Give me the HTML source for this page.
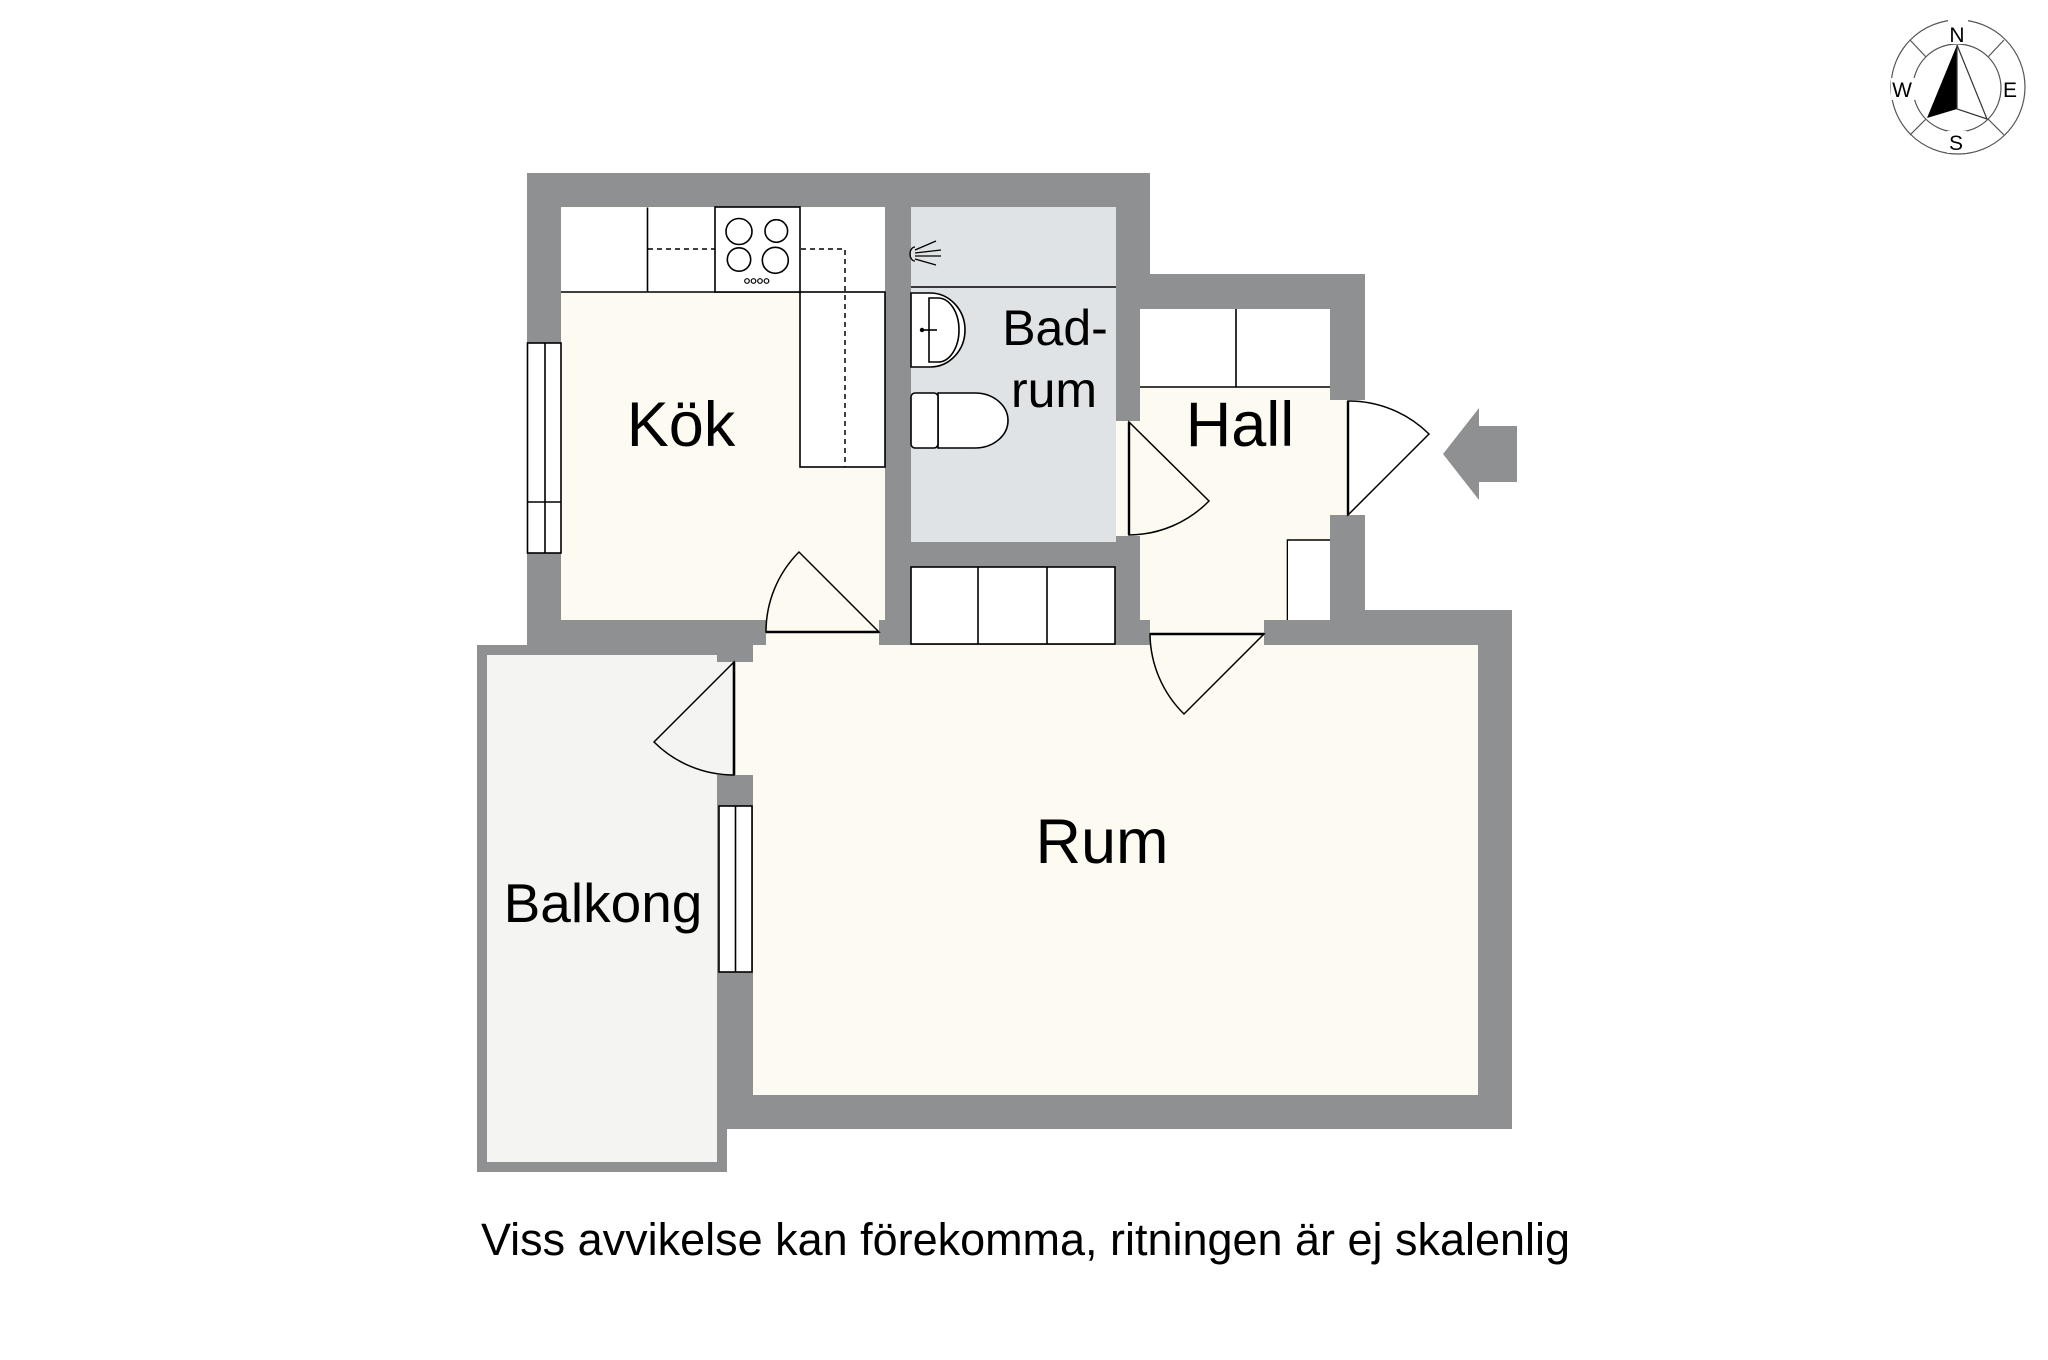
<!DOCTYPE html>
<html>
<head>
<meta charset="utf-8">
<style>
  html,body{margin:0;padding:0;background:#fff;}
  svg{display:block;}
  text{font-family:"Liberation Sans", Arial, sans-serif; fill:#000;}
</style>
</head>
<body>
<svg width="2048" height="1360" viewBox="0 0 2048 1360" xmlns="http://www.w3.org/2000/svg">
  <rect x="0" y="0" width="2048" height="1360" fill="#ffffff"/>

  <!-- ===== WALL BLOCKS ===== -->
  <g fill="#8e9092">
    <rect x="527" y="173" width="623" height="472"/>
    <rect x="1116" y="274" width="249" height="371"/>
    <rect x="1330" y="610" width="182" height="519"/>
    <rect x="717" y="645" width="795" height="484"/>
    <!-- balcony frame -->
    <rect x="477" y="645" width="250" height="527"/>
    <rect x="477" y="645" width="276" height="10"/>
  </g>

  <!-- ===== ROOM INTERIORS ===== -->
  <rect x="561" y="207" width="324" height="413" fill="#fdfbf1"/>       <!-- kitchen -->
  <rect x="911" y="207" width="205" height="335" fill="#dfe3e6"/>       <!-- bath -->
  <rect x="1140" y="309" width="190" height="311" fill="#fdfbf1"/>      <!-- hall -->
  <rect x="753" y="645" width="725" height="450" fill="#fdfbf1"/>       <!-- rum -->
  <rect x="487" y="655" width="230" height="507" fill="#f4f4f2"/>       <!-- balcony -->

  <!-- ===== OPENINGS ===== -->
  <rect x="766" y="620" width="113" height="26" fill="#fdfbf1"/>        <!-- kitchen door -->
  <rect x="1116" y="421" width="24" height="115" fill="#fdfbf1"/>       <!-- bath door -->
  <rect x="1330" y="400" width="18" height="115" fill="#fdfbf1"/>       <!-- entry door inner -->
  <rect x="1348" y="400" width="17" height="115" fill="#ffffff"/>       <!-- entry door outer -->
  <rect x="1150" y="620" width="114" height="26" fill="#fdfbf1"/>       <!-- hall-rum door -->
  <rect x="717" y="662" width="17" height="113" fill="#f4f4f2"/>        <!-- balcony door -->
  <rect x="734" y="662" width="19" height="113" fill="#fdfbf1"/>

  <!-- ===== WINDOWS ===== -->
  <g stroke="#000" stroke-width="1.6" fill="#ffffff">
    <rect x="527.5" y="343" width="33.5" height="210"/>
    <line x1="545" y1="343" x2="545" y2="553"/>
    <line x1="527.5" y1="502" x2="561" y2="502"/>
    <rect x="719" y="806" width="33" height="166"/>
    <line x1="735.5" y1="806" x2="735.5" y2="972"/>
  </g>

  <!-- ===== KITCHEN COUNTERS ===== -->
  <g stroke="#000" stroke-width="1.6" fill="#ffffff">
    <rect x="561" y="207.5" width="324" height="84.5" stroke="none"/>
    <rect x="800" y="292" width="85" height="175"/>
    <line x1="561" y1="292" x2="800" y2="292"/>
    <line x1="647.5" y1="207.5" x2="647.5" y2="292"/>
    <rect x="715" y="207" width="85" height="85"/>
  </g>
  <g stroke="#000" stroke-width="1.5" fill="none" stroke-dasharray="5,4">
    <line x1="648" y1="249" x2="715" y2="249"/>
    <polyline points="801,249 845,249 845,467"/>
  </g>
  <g stroke="#000" stroke-width="1.6" fill="none">
    <circle cx="739" cy="231.5" r="13"/>
    <circle cx="776.3" cy="231" r="11.3"/>
    <circle cx="739" cy="259.5" r="11.7"/>
    <circle cx="775.3" cy="260.3" r="13"/>
  </g>
  <g stroke="#000" stroke-width="1.2" fill="none">
    <circle cx="747" cy="281" r="2.3"/>
    <circle cx="753.5" cy="281" r="2.3"/>
    <circle cx="760" cy="281" r="2.3"/>
    <circle cx="766.5" cy="281" r="2.3"/>
  </g>

  <!-- ===== BATH FIXTURES ===== -->
  <line x1="911" y1="287" x2="1116" y2="287" stroke="#000" stroke-width="1.6"/>
  <g stroke="#000" stroke-width="1.3" fill="none">
    <path d="M915,247 A5,7 0 0 0 915,261"/>
    <line x1="915" y1="250" x2="936" y2="241"/>
    <line x1="915" y1="253" x2="941" y2="250"/>
    <line x1="915" y1="256" x2="941" y2="256"/>
    <line x1="915" y1="259" x2="936" y2="265"/>
  </g>
  <g stroke="#000" stroke-width="1.6" fill="#ffffff">
    <path d="M911,293 H930 A35,37 0 0 1 930,367 H911 Z"/>
    <path d="M929,298 H938 A21,32 0 0 1 938,362 H929 Z"/>
    <line x1="922" y1="330" x2="937" y2="330"/>
    <path d="M938,393 H975 A33,27.5 0 0 1 975,448 H938 Z"/>
    <rect x="911" y="393" width="27" height="55" rx="4"/>
  </g>
  <circle cx="922" cy="330" r="2.2" fill="#000"/>

  <!-- ===== CLOSETS ===== -->
  <g stroke="#000" stroke-width="1.6" fill="#ffffff">
    <rect x="911" y="567" width="204" height="77"/>
    <line x1="978" y1="567" x2="978" y2="644"/>
    <line x1="1047" y1="567" x2="1047" y2="644"/>
    <rect x="1140" y="309" width="190" height="78" stroke="none"/>
    <line x1="1140" y1="387" x2="1330" y2="387"/>
    <line x1="1236" y1="309" x2="1236" y2="387"/>
    <polyline points="1287.5,620 1287.5,540 1330,540"/>
    <rect x="1288" y="541" width="42" height="79" stroke="none"/>
  </g>

  <!-- ===== DOORS ===== -->
  <g stroke="#000" stroke-width="1.5">
    <!-- kitchen door -->
    <path d="M879,632 L799,552 A113,113 0 0 0 766,632 Z" fill="#fdfbf1"/>
    <line x1="766" y1="632" x2="879" y2="632" stroke-width="2.6"/>
    <!-- bath door -->
    <path d="M1129,422 L1209,501 A113,113 0 0 1 1129,535 Z" fill="#fdfbf1"/>
    <line x1="1129" y1="422" x2="1129" y2="535" stroke-width="2.4"/>
    <!-- entry door -->
    <path d="M1348,515 L1429,434 A114,114 0 0 0 1348,401 Z" fill="#ffffff"/>
    <line x1="1348" y1="401" x2="1348" y2="515" stroke-width="2.4"/>
    <!-- hall-rum door -->
    <path d="M1264,634 L1184,714 A114,114 0 0 1 1150,634 Z" fill="#fdfbf1"/>
    <line x1="1150" y1="634" x2="1264" y2="634" stroke-width="2.6"/>
    <!-- balcony door -->
    <path d="M734,662 L654,742 A113,113 0 0 0 734,775 Z" fill="#f4f4f2"/>
    <line x1="734" y1="662" x2="734" y2="775" stroke-width="2.6"/>
  </g>

  <!-- ===== ENTRY ARROW ===== -->
  <polygon points="1443,454 1479,408 1479,426 1517,426 1517,482 1479,482 1479,500" fill="#8e9092"/>

  <!-- ===== LABELS ===== -->
  <text x="681" y="446" font-size="63" text-anchor="middle">Kök</text>
  <text x="1055" y="345" font-size="50" text-anchor="middle">Bad-</text>
  <text x="1054" y="407" font-size="50" text-anchor="middle">rum</text>
  <text x="1240" y="446" font-size="63" text-anchor="middle">Hall</text>
  <text x="1102" y="863" font-size="63" text-anchor="middle">Rum</text>
  <text x="603" y="922" font-size="55" text-anchor="middle">Balkong</text>

  <text x="481" y="1255" font-size="45" textLength="1089" lengthAdjust="spacingAndGlyphs">Viss avvikelse kan förekomma, ritningen är ej skalenlig</text>

  <!-- ===== COMPASS ===== -->
  <g stroke="#555" stroke-width="1.2" fill="none">
    <circle cx="1958" cy="87" r="67"/>
    <circle cx="1957" cy="88" r="44"/>
    <line x1="1926" y1="57" x2="1910" y2="40"/>
    <line x1="1988" y1="57" x2="2004" y2="40"/>
    <line x1="1926" y1="119" x2="1910" y2="135"/>
    <line x1="1988" y1="119" x2="2004" y2="135"/>
  </g>
  <rect x="1948" y="18" width="20" height="26" fill="#fff"/>
  <rect x="1891" y="78" width="24" height="22" fill="#fff"/>
  <rect x="2002" y="78" width="18" height="22" fill="#fff"/>
  <rect x="1947" y="131" width="20" height="22" fill="#fff"/>
  <polygon points="1957,45 1927,118 1957,109" fill="#000"/>
  <polygon points="1957,45 1957,109 1987,119" fill="#fff" stroke="#333" stroke-width="1.2"/>
  <g font-size="21" text-anchor="middle">
    <text x="1957" y="42">N</text>
    <text x="1902" y="97">W</text>
    <text x="2010" y="97">E</text>
    <text x="1956" y="150">S</text>
  </g>
</svg>
</body>
</html>
